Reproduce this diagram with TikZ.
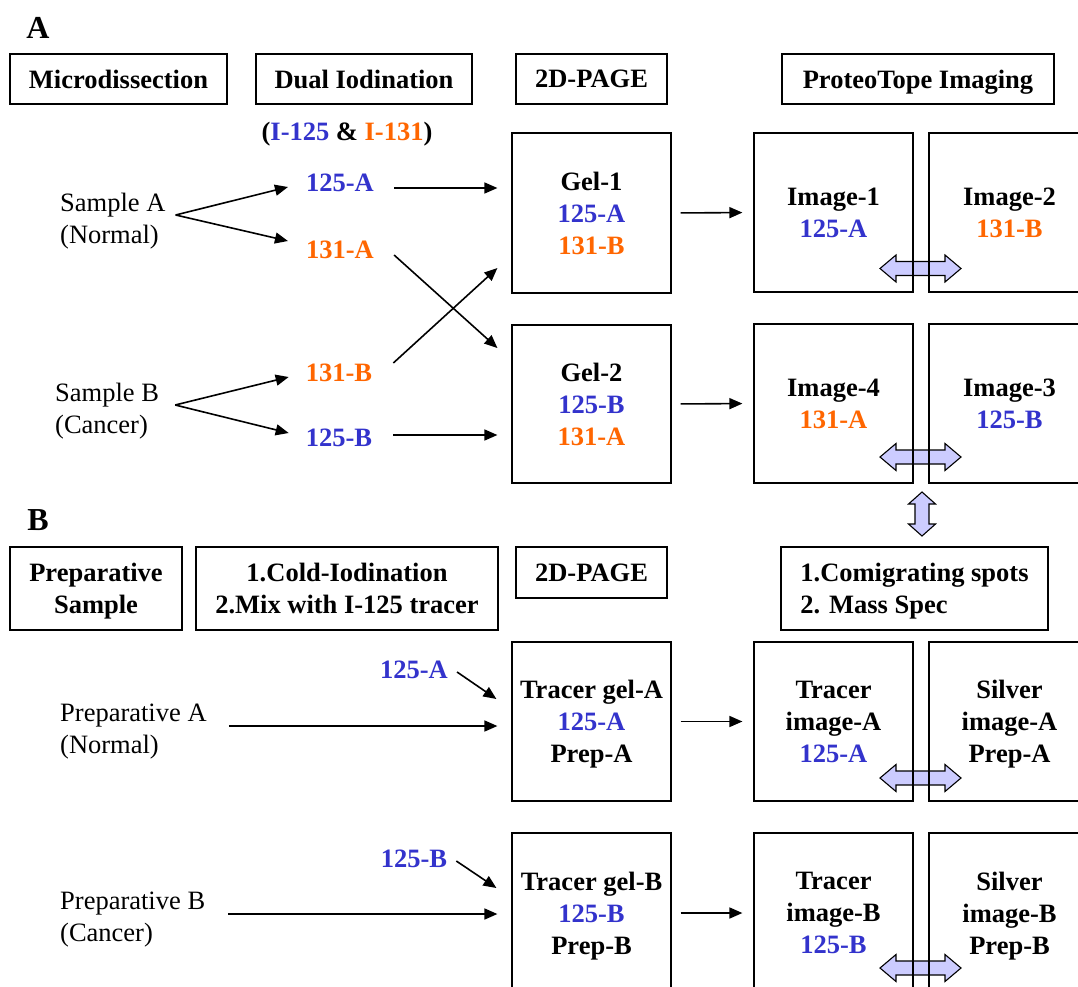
\documentclass[tikz,border=0pt]{standalone}
\usepackage{fontspec}
\setmainfont{Liberation Serif}
\usetikzlibrary{arrows.meta}
\definecolor{isoblue}{RGB}{51,51,204}
\definecolor{isoorange}{RGB}{255,102,0}
\definecolor{dblfill}{RGB}{204,204,255}
\begin{document}
\begin{tikzpicture}[x=1pt,y=-1pt,
  txt/.style={inner sep=0pt, align=left, font=\fontsize{26.5}{32}\selectfont},
  btxt/.style={inner sep=0pt, align=center, font=\fontsize{26.5}{32}\selectfont\bfseries},
  biglab/.style={inner sep=0pt, font=\fontsize{32}{36}\selectfont\bfseries},
  hbox/.style={draw, line width=1.2pt, inner sep=0pt, text depth=0pt, align=center, font=\fontsize{26.5}{32}\selectfont\bfseries},
  panel/.style={hbox, minimum width=159pt, minimum height=159pt},
  arr/.style={line width=1.6pt, -{Triangle[length=13pt,width=11pt]}},
  dbl/.style={draw, line width=1.1pt, fill=dblfill, line join=miter},
  hdbl/.pic={\path[dbl] (-40.5,0) -- (-24.5,-13.5) -- (-24.5,-7) -- (24.5,-7) -- (24.5,-13.5) -- (40.5,0) -- (24.5,13.5) -- (24.5,7) -- (-24.5,7) -- (-24.5,13.5) -- cycle;},
  vdbl/.pic={\path[dbl] (0,-22) -- (-13.5,-10) -- (-7,-10) -- (-7,10) -- (-13.5,10) -- (0,22) -- (13.5,10) -- (7,10) -- (7,-10) -- (13.5,-10) -- cycle;}
]
\useasboundingbox (0,0) rectangle (1078,987);
\clip (0,0) rectangle (1078,987);
\fill[white] (0,0) rectangle (1078,987);

% double arrows (behind the panels)
\pic at (920.5,268.5) {hdbl};
\pic at (920.5,457) {hdbl};
\pic at (920.5,778) {hdbl};
\pic at (920.5,968) {hdbl};
\pic at (922,514) {vdbl};

% ---------- Part A ----------
\node[biglab] (labA) at (38,28) {A};
\node[hbox, minimum width=217pt, minimum height=50pt] (hMicro) at (118.5,79) {Microdissection};
\node[hbox, minimum width=216pt, minimum height=50pt] (hDual) at (364,79) {Dual Iodination};
\node[hbox, minimum width=151pt, minimum height=50pt] (hPage) at (591.5,79) {2D-PAGE};
\node[hbox, minimum width=272pt, minimum height=50pt] (hProteo) at (918,79) {ProteoTope Imaging};
\node[btxt] (iso) at (347,134) {(\textcolor{isoblue}{I-125} \& \textcolor{isoorange}{I-131})};

\node[txt, anchor=west] (sampA) at (60,221) {Sample A\\(Normal)};
\node[txt, anchor=west] (sampB) at (55,411) {Sample B\\(Cancer)};

\node[btxt, text=isoblue] (a125) at (340,183) {125-A};
\node[btxt, text=isoorange] (a131) at (340,250) {131-A};
\node[btxt, text=isoorange] (b131) at (339,373) {131-B};
\node[btxt, text=isoblue] (b125) at (339,438) {125-B};

\node[panel, minimum height=160pt] (gel1) at (591.5,213) {Gel-1\\\textcolor{isoblue}{125-A}\\\textcolor{isoorange}{131-B}};
\node[panel, minimum height=158pt] (gel2) at (591.5,404) {Gel-2\\\textcolor{isoblue}{125-B}\\\textcolor{isoorange}{131-A}};

\node[panel] (img1) at (833.5,212.5) {Image-1\\\textcolor{isoblue}{125-A}};
\node[panel, minimum width=161pt] (img2) at (1009.5,212.5) {Image-2\\\textcolor{isoorange}{131-B}};
\node[panel] (img4) at (833.5,403.5) {Image-4\\\textcolor{isoorange}{131-A}};
\node[panel, minimum width=161pt] (img3) at (1009.5,403.5) {Image-3\\\textcolor{isoblue}{125-B}};

\draw[arr] ([xshift=10pt,yshift=6pt]sampA.east) -- ([xshift=-18pt,yshift=-4pt]a125.west);
\draw[arr] ([xshift=10pt,yshift=6pt]sampA.east) -- ([xshift=-18pt,yshift=9pt]a131.west);
\draw[arr] ([xshift=16pt,yshift=6pt]sampB.east) -- ([xshift=-17pt,yshift=-4pt]b131.west);
\draw[arr] ([xshift=16pt,yshift=6pt]sampB.east) -- ([xshift=-17pt,yshift=5pt]b125.west);

\draw[arr] ([xshift=20pt,yshift=-5pt]a125.east) -- ([xshift=-14pt,yshift=25pt]gel1.west);
\draw[arr] ([xshift=20pt,yshift=-5pt]a131.east) -- ([xshift=-14pt,yshift=56pt]gel2.west);
\draw[arr] ([xshift=21pt,yshift=10pt]b131.east) -- ([xshift=-14pt,yshift=-55pt]gel1.west);
\draw[arr] ([xshift=21pt,yshift=3pt]b125.east) -- ([xshift=-14pt,yshift=-31pt]gel2.west);

\draw[arr, shorten <=9pt, shorten >=11pt] (gel1.east) -- (img1.west);
\draw[arr, shorten <=9pt, shorten >=11pt] (gel2.east) -- (img4.west);

% ---------- Part B ----------
\node[biglab] (labB) at (38,520) {B};
\node[hbox, minimum width=172pt, minimum height=83pt] (hPrep) at (96,588.5) {Preparative\\Sample};
\node[hbox, minimum width=302pt, minimum height=83pt] (hCold) at (347,588.5) {1.Cold-Iodination\\2.Mix with I-125 tracer};
\node[hbox, minimum width=151pt, minimum height=51pt] (hPage2) at (591.5,572.5) {2D-PAGE};
\node[hbox, align=left, minimum width=267pt, minimum height=83pt] (hComig) at (914.5,588.5) {1.Comigrating spots\\2. Mass Spec};

\node[txt, anchor=west] (prepA) at (60,732) {Preparative A\\(Normal)};
\node[txt, anchor=west] (prepB) at (60,919.5) {Preparative B\\(Cancer)};
\node[btxt, text=isoblue] (c125A) at (414,670) {125-A};
\node[btxt, text=isoblue] (c125B) at (414,859) {125-B};

\node[panel] (tgA) at (591.5,721.5) {Tracer gel-A\\\textcolor{isoblue}{125-A}\\Prep-A};
\node[panel] (tiA) at (833.5,721.5) {Tracer\\image-A\\\textcolor{isoblue}{125-A}};
\node[panel, minimum width=161pt] (siA) at (1009.5,721.5) {Silver\\image-A\\Prep-A};
\node[panel, minimum height=160pt] (tgB) at (591.5,913) {Tracer gel-B\\\textcolor{isoblue}{125-B}\\Prep-B};
\node[panel, minimum height=160pt] (tiB) at (833.5,913) {Tracer\\image-B\\\textcolor{isoblue}{125-B}};
\node[panel, minimum width=161pt, minimum height=160pt] (siB) at (1009.5,913) {Silver\\image-B\\Prep-B};

\draw[arr] ([xshift=22pt,yshift=6pt]prepA.east) -- ([xshift=-14pt,yshift=-4.5pt]tgA.west);
\draw[arr] ([xshift=9pt,yshift=-2pt]c125A.east) -- ([xshift=-15pt,yshift=22.5pt]tgA.west);
\draw[arr] ([xshift=23pt,yshift=5.5pt]prepB.east) -- ([xshift=-14pt,yshift=-1pt]tgB.west);
\draw[arr] ([xshift=9pt,yshift=-2pt]c125B.east) -- ([xshift=-15pt,yshift=25pt]tgB.west);

\draw[arr, shorten <=9pt, shorten >=11pt] (tgA.east) -- (tiA.west);
\draw[arr, shorten <=9pt, shorten >=11pt] (tgB.east) -- (tiB.west);
\end{tikzpicture}
\end{document}
